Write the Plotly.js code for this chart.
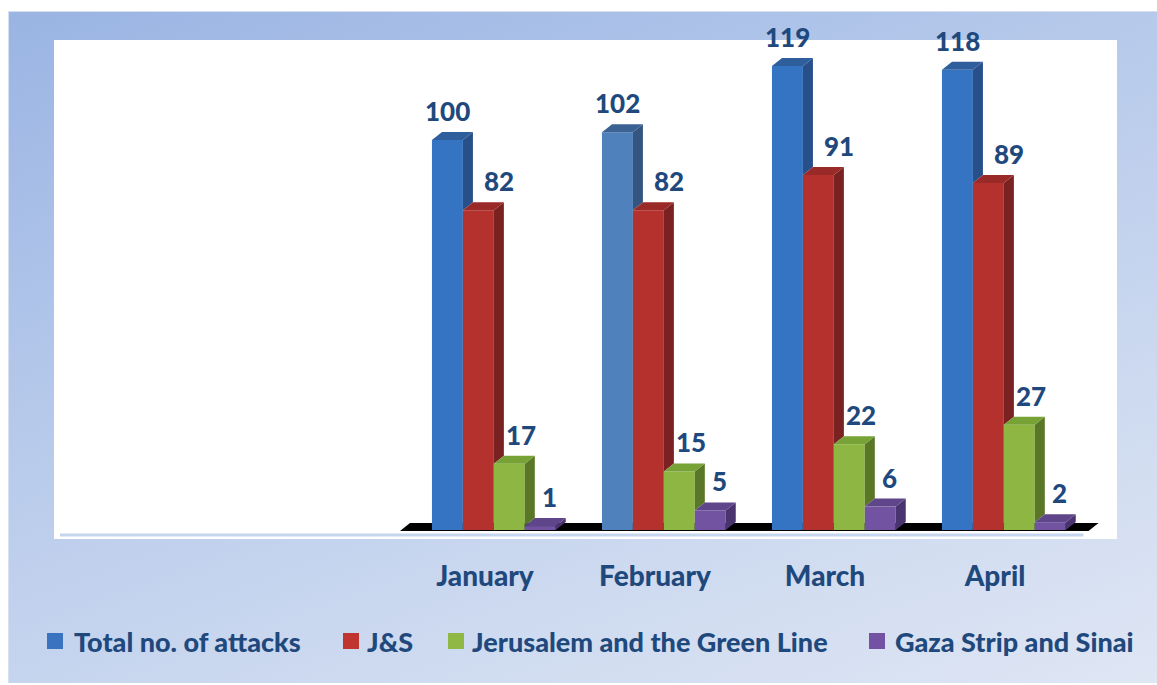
<!DOCTYPE html>
<html>
<head>
<meta charset="utf-8">
<script src="https://cdn.plot.ly/plotly-3.0.1.min.js"></script>
<style>
  html, body { margin: 0; padding: 0; background: #ffffff; }
  #frame {
    position: absolute; left: 8px; top: 11px; width: 1148px; height: 671px;
    background: linear-gradient(160deg, #9ab4e3 0%, #b7caeb 40%, #cfdbf0 75%, #dfe6f4 100%);
    border-left: 1px solid #d6e0f0; border-top: 1px solid #d6e0f0;
  }
  #chart { position: absolute; left: 0; top: 0; width: 1157px; height: 685px; }
</style>
</head>
<body>
<div id="frame"></div>
<div id="chart"></div>
<script>
// ---- data ----
const categories = ['January', 'February', 'March', 'April'];
const seriesNames = ['Total no. of attacks', 'J&S', 'Jerusalem and the Green Line', 'Gaza Strip and Sinai'];
const totalAttacks = [100, 102, 119, 118];
const jsAttacks = [82, 82, 91, 89];
const jerusalemGreenLine = [17, 15, 22, 27];
const gazaSinai = [1, 5, 6, 2];

// ---- style ----
const seriesValues = [totalAttacks, jsAttacks, jerusalemGreenLine, gazaSinai];
const frontColors = [
  ['#3474c2', '#4f81bd', '#3474c2', '#3474c2'],
  ['#b5312d', '#b5312d', '#b5312d', '#b5312d'],
  ['#8db643', '#8db643', '#8db643', '#8db643'],
  ['#7253a2', '#7253a2', '#7253a2', '#7253a2']
];
const sideColors = [
  ['#27508a', '#34557f', '#27508a', '#27508a'],
  ['#7a2121', '#7a2121', '#7a2121', '#7a2121'],
  ['#5a7728', '#5a7728', '#5a7728', '#5a7728'],
  ['#4a3470', '#4a3470', '#4a3470', '#4a3470']
];
const topColors = [
  ['#2e5e9c', '#3c6193', '#2e5e9c', '#2e5e9c'],
  ['#9a2a27', '#9a2a27', '#9a2a27', '#9a2a27'],
  ['#77a236', '#77a236', '#77a236', '#77a236'],
  ['#5f4589', '#5f4589', '#5f4589', '#5f4589']
];
const legendSwatchColors = ['#3a73bf', '#c0352f', '#8fb944', '#7352a3'];
const labelXShift = [0, 21, 12, 9];
const barW = 0.182;      // bar width in category units
const off0 = -0.312;     // left edge of first bar relative to category centre
const dx = 0.059;        // 3-D depth (x, category units)
const dy = 2.05;         // 3-D depth (y, value units)
const textColor = '#1f497d';
const fontFamily = 'Lato, "Open Sans", sans-serif';
const fontWeight = 900;

// plot-area pixel geometry (for the hand-placed legend)
const plotL = 54, plotR = 1117, plotT = 40, plotB = 539;
const px2x = p => (p - plotL) / (plotR - plotL);
const px2y = p => (plotB - p) / (plotB - plotT);
const legendSwatchLeft = [47, 343, 448, 869];
const legendTextLeft = [72, 365, 470, 893];
const legendCenterY = 641;

const traces = [];
// front faces (bars)
seriesValues.forEach((vals, s) => {
  traces.push({
    type: 'bar',
    name: seriesNames[s],
    x: categories.map((c, i) => i),
    y: vals,
    offset: off0 + s * barW,
    width: barW,
    marker: { color: frontColors[s], line: { width: 0 } },
    hoverinfo: 'skip'
  });
});
// side and top faces
seriesValues.forEach((vals, s) => {
  vals.forEach((v, i) => {
    const x0 = i + off0 + s * barW;
    const x1 = x0 + barW;
    const next = s < seriesValues.length - 1 ? seriesValues[s + 1][i] : 0;
    const bottom = Math.min(v, next);
    traces.push({
      type: 'scatter', mode: 'lines', showlegend: false, hoverinfo: 'skip',
      x: [x1, x1 + dx, x1 + dx, x1, x1],
      y: [bottom, bottom + dy, v + dy, v, bottom],
      fill: 'toself', fillcolor: sideColors[s][i], line: { width: 0 }
    });
    traces.push({
      type: 'scatter', mode: 'lines', showlegend: false, hoverinfo: 'skip',
      x: [x0, x0 + dx, x1 + dx, x1, x0],
      y: [v, v + dy, v + dy, v, v],
      fill: 'toself', fillcolor: topColors[s][i], line: { width: 0 }
    });
  });
});

// value labels
const annotations = [];
seriesValues.forEach((vals, s) => {
  vals.forEach((v, i) => {
    annotations.push({
      x: i + off0 + s * barW + barW / 2, y: v, xref: 'x', yref: 'y',
      text: String(v), showarrow: false, yanchor: 'bottom', xanchor: 'center',
      yshift: 11, xshift: labelXShift[s],
      font: { family: fontFamily, size: 26, color: textColor, weight: fontWeight }
    });
  });
});

const n = categories.length;
const shapes = [
  { // floor
    type: 'path', xref: 'x', yref: 'y', layer: 'below',
    path: `M ${-0.5},${-0.25} L ${-0.5 + dx},${-0.25 + dy} L ${n - 0.45 + dx},${-0.25 + dy} L ${n - 0.45},${-0.25} Z`,
    fillcolor: '#000000', line: { width: 0 }
  },
  { // light axis line
    type: 'line', xref: 'x', yref: 'y', layer: 'below',
    x0: -2.5, x1: n - 0.48, y0: -1.3, y1: -1.3,
    line: { color: '#c6d6ef', width: 3 }
  }
];

// legend (hand placed: swatch + label)
seriesNames.forEach((name, s) => {
  shapes.push({
    type: 'rect', xref: 'paper', yref: 'paper',
    x0: px2x(legendSwatchLeft[s]), x1: px2x(legendSwatchLeft[s] + 16),
    y0: px2y(legendCenterY - 8), y1: px2y(legendCenterY + 8),
    fillcolor: legendSwatchColors[s], line: { width: 0 }
  });
  annotations.push({
    xref: 'paper', yref: 'paper', x: px2x(legendTextLeft[s]), y: px2y(legendCenterY),
    xanchor: 'left', yanchor: 'middle', showarrow: false, text: name,
    font: { family: fontFamily, size: 27, color: textColor, weight: fontWeight }
  });
});

const layout = {
  width: 1157, height: 685,
  margin: { l: plotL, r: 1157 - plotR, t: plotT, b: 685 - plotB, pad: 0 },
  paper_bgcolor: 'rgba(0,0,0,0)',
  plot_bgcolor: '#ffffff',
  barmode: 'overlay',
  showlegend: false,
  xaxis: {
    range: [-2.5353, 3.7176], tickvals: categories.map((c, i) => i), ticktext: categories,
    showgrid: false, zeroline: false, showline: false, ticks: '',
    ticklabelstandoff: 18,
    tickfont: { family: fontFamily, size: 28, color: textColor, weight: fontWeight }
  },
  yaxis: {
    range: [-2.31, 125.64], showgrid: false, zeroline: false, showline: false,
    showticklabels: false, ticks: ''
  },
  annotations: annotations,
  shapes: shapes
};

Plotly.newPlot('chart', traces, layout, { displayModeBar: false, staticPlot: true });
</script>
</body>
</html>
